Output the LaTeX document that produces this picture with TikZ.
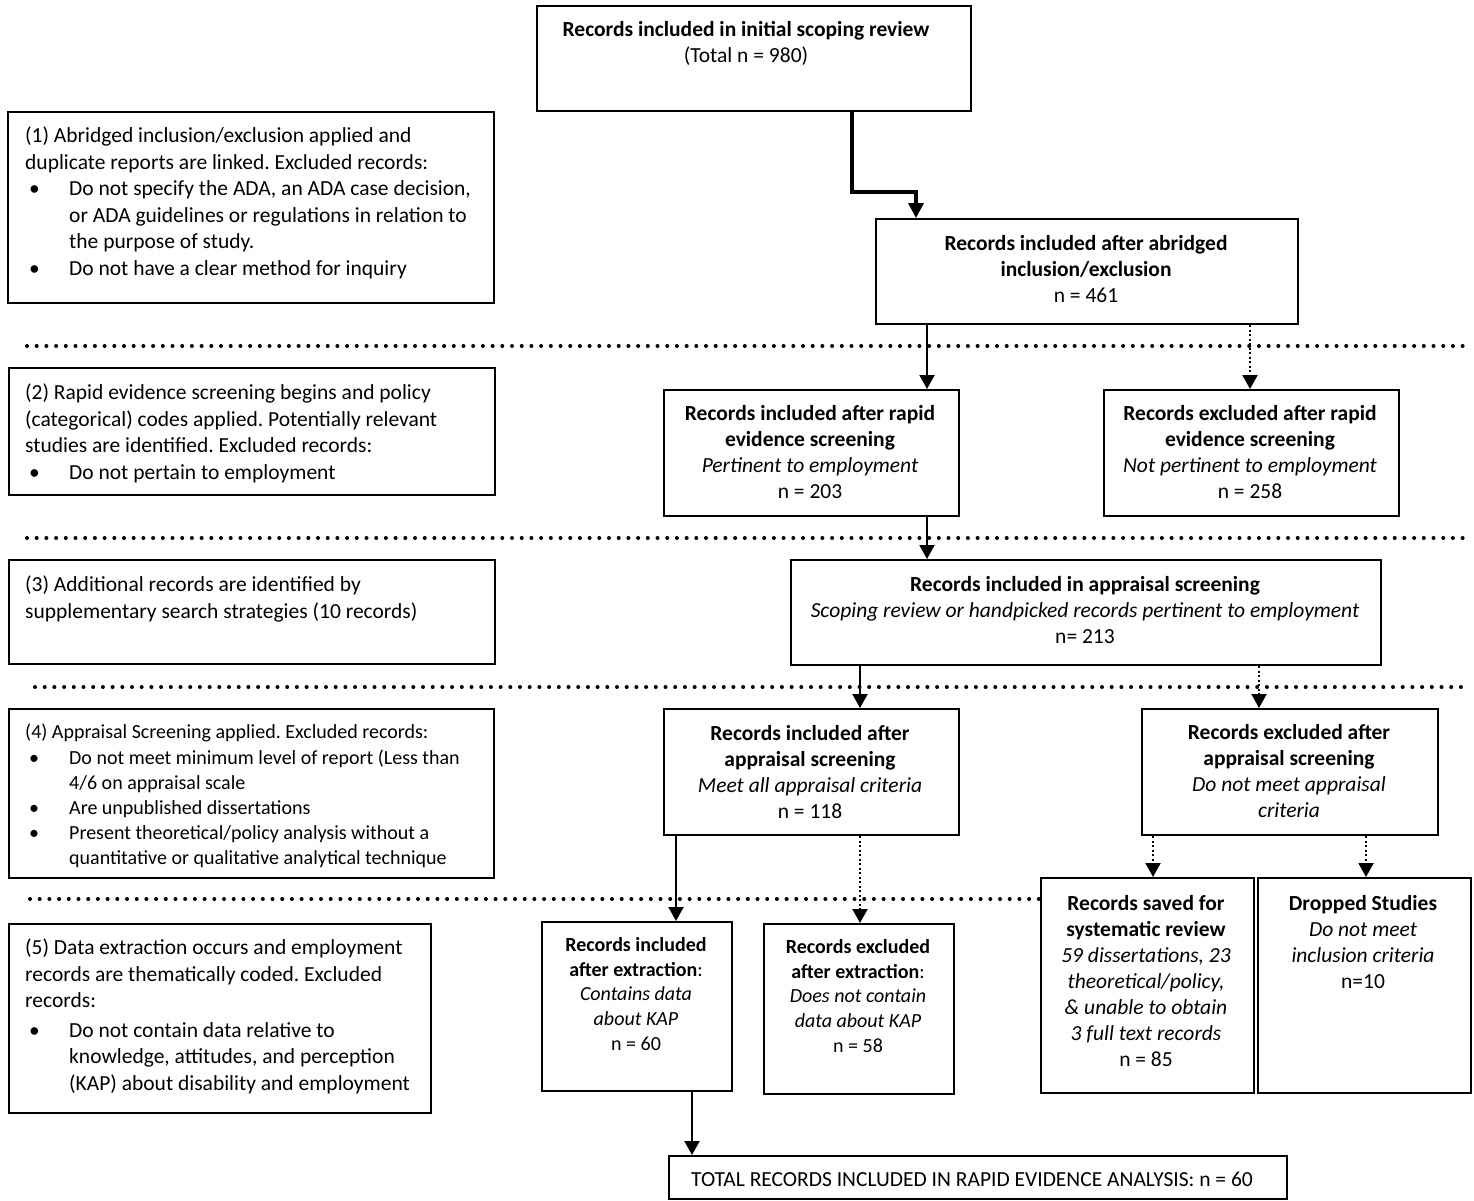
\documentclass[tikz,border=0pt]{standalone}
\usepackage{fontspec}
\setmainfont{Carlito}
\usetikzlibrary{arrows.meta}
\frenchspacing
\newcommand\bitem{\makebox[44pt][l]{\hspace{4pt}\textbullet}}
\newcommand\bcont{\hspace*{44pt}}
\begin{document}
\begin{tikzpicture}[x=1pt,y=-1pt,
  box/.style={draw, line width=2pt, anchor=north west, inner sep=0pt},
  txt/.style={anchor=north, align=center, inner sep=0pt, font=\fontsize{21.5}{26}\selectfont},
  stxt/.style={anchor=north, align=center, inner sep=0pt, font=\fontsize{20}{24.8}\selectfont},
  ltxt/.style={anchor=north west, align=left, inner sep=0pt, font=\fontsize{21.5}{26.5}\selectfont},
  sltxt/.style={anchor=north west, align=left, inner sep=0pt, font=\fontsize{20}{25.2}\selectfont},
  arr/.style={line width=2pt, -{Triangle[width=15pt,length=14pt]}},
  darr/.style={line width=2pt, dash pattern=on 2pt off 2.5pt, -{Triangle[width=15pt,length=14pt]}},
  sep/.style={line width=4pt, line cap=round, dash pattern=on 0pt off 9.7pt}]
\useasboundingbox (0,0) rectangle (1474,1200);

% ---------- boxes ----------
\node[box, minimum width=434pt, minimum height=105pt] (b1) at (536,5) {};
\node[txt] (t1) at (746,21) {\textbf{Records included in initial scoping review}\\(Total n = 980)};

\node[box, minimum width=486pt, minimum height=191pt] (l1) at (7,111) {};
\node[ltxt] (tl1) at (25,127) {(1) Abridged inclusion/exclusion applied and\\
duplicate reports are linked. Excluded records:\\
\bitem Do not specify the ADA, an ADA case decision,\\
\bcont or ADA guidelines or regulations in relation to\\
\bcont the purpose of study.\\
\bitem Do not have a clear method for inquiry};

\node[box, minimum width=422pt, minimum height=105pt] (b3) at (875,218) {};
\node[txt] (t3) at (1086,235) {\textbf{Records included after abridged}\\\textbf{inclusion/exclusion}\\n = 461};

\node[box, minimum width=486pt, minimum height=127pt] (l2) at (8,367) {};
\node[ltxt] (tl2) at (25,384) {(2) Rapid evidence screening begins and policy\\
(categorical) codes applied. Potentially relevant\\
studies are identified. Excluded records:\\
\bitem Do not pertain to employment};

\node[box, minimum width=295pt, minimum height=126pt] (b6) at (663,389) {};
\node[txt] (t6) at (810,405) {\textbf{Records included after rapid}\\\textbf{evidence screening}\\\textit{Pertinent to employment}\\n = 203};

\node[box, minimum width=295pt, minimum height=126pt] (b7) at (1103,389) {};
\node[txt] (t7) at (1250,405) {\textbf{Records excluded after rapid}\\\textbf{evidence screening}\\\textit{Not pertinent to employment}\\n = 258};

\node[box, minimum width=486pt, minimum height=104pt] (l3) at (8,559) {};
\node[ltxt] (tl3) at (25,576) {(3) Additional records are identified by\\
supplementary search strategies (10 records)};

\node[box, minimum width=590pt, minimum height=105pt] (b10) at (790,559) {};
\node[txt] (t10) at (1085,576) {\textbf{Records included in appraisal screening}\\\textit{Scoping review or handpicked records pertinent to employment}\\n= 213};

\node[box, minimum width=485pt, minimum height=169pt] (l4) at (8,708) {};
\node[sltxt] (tl4) at (25,724) {(4) Appraisal Screening applied. Excluded records:\\
\bitem Do not meet minimum level of report (Less than\\
\bcont 4/6 on appraisal scale\\
\bitem Are unpublished dissertations\\
\bitem Present theoretical/policy analysis without a\\
\bcont quantitative or qualitative analytical technique};

\node[box, minimum width=295pt, minimum height=126pt] (b13) at (663,708) {};
\node[txt] (t13) at (810,725) {\textbf{Records included after}\\\textbf{appraisal screening}\\\textit{Meet all appraisal criteria}\\n = 118};

\node[box, minimum width=296pt, minimum height=126pt] (b14) at (1141,708) {};
\node[txt] (t14) at (1289,724) {\textbf{Records excluded after}\\\textbf{appraisal screening}\\\textit{Do not meet appraisal}\\\textit{criteria}};

\node[box, minimum width=422pt, minimum height=189pt] (l5) at (8,923) {};
\node[ltxt] (tl5) at (25,939) {(5) Data extraction occurs and employment\\
records are thematically coded. Excluded\\
records:\\[3pt]
\bitem Do not contain data relative to\\
\bcont knowledge, attitudes, and perception\\
\bcont (KAP) about disability and employment};

\node[box, minimum width=190pt, minimum height=169pt] (b17) at (541,921) {};
\node[stxt] (t17) at (636,937) {\textbf{Records included}\\\textbf{after extraction}:\\\textit{Contains data}\\\textit{about KAP}\\n = 60};

\node[box, minimum width=190pt, minimum height=170pt] (b18) at (763,923) {};
\node[stxt] (t18) at (858,939) {\textbf{Records excluded}\\\textbf{after extraction}:\\\textit{Does not contain}\\\textit{data about KAP}\\n = 58};

\node[box, minimum width=213pt, minimum height=215pt] (b19) at (1040,877) {};
\node[txt] (t19) at (1146,895) {\textbf{Records saved for}\\\textbf{systematic review}\\\textit{59 dissertations, 23}\\\textit{theoretical/policy,}\\\textit{\& unable to obtain}\\\textit{3 full text records}\\n = 85};

\node[box, minimum width=213pt, minimum height=215pt] (b20) at (1257,877) {};
\node[txt] (t20) at (1363,895) {\textbf{Dropped Studies}\\\textit{Do not meet}\\\textit{inclusion criteria}\\n=10};

\node[box, minimum width=618pt, minimum height=43pt] (b21) at (668,1155) {};
\node[txt, anchor=center] (t21) at ([xshift=-6pt,yshift=-2pt]b21.center) {TOTAL RECORDS INCLUDED IN RAPID EVIDENCE ANALYSIS: n = 60};

% ---------- separators ----------
\coordinate (s1a) at (27,346);  \coordinate (s1b) at (1470,346);
\coordinate (s2a) at (27,538);  \coordinate (s2b) at (1470,538);
\coordinate (s3a) at (35,687);  \coordinate (s3b) at (1470,687);
\coordinate (s4a) at (30,899);  \coordinate (s4b) at (1040,899);
\draw[sep] (s1a) -- (s1b);
\draw[sep] (s2a) -- (s2b);
\draw[sep] (s3a) -- (s3b);
\draw[sep] (s4a) -- (s4b);

% ---------- connectors ----------
\draw[arr, line width=3.5pt, -{Triangle[width=15pt,length=15pt]}]
  ([xshift=316pt]b1.south west) -- ++(0,80) -| ([xshift=41pt]b3.north west);
\draw[arr] ([xshift=52pt]b3.south west) -- ([xshift=264pt]b6.north west);
\draw[darr] ([xshift=375pt]b3.south west) -- ([xshift=147pt]b7.north west);
\draw[arr] ([xshift=264pt]b6.south west) -- ([xshift=137pt]b10.north west);
\draw[arr] ([xshift=70pt]b10.south west) -- ([xshift=197pt]b13.north west);
\draw[darr] ([xshift=469pt]b10.south west) -- ([xshift=118pt]b14.north west);
\draw[arr] ([xshift=13pt]b13.south west) -- ([xshift=135pt]b17.north west);
\draw[darr] ([xshift=197pt]b13.south west) -- ([xshift=97pt]b18.north west);
\draw[darr] ([xshift=12pt]b14.south west) -- ([xshift=113pt]b19.north west);
\draw[darr] ([xshift=225pt]b14.south west) -- ([xshift=109pt]b20.north west);
\draw[arr] ([xshift=151pt]b17.south west) -- ([xshift=24pt]b21.north west);
\end{tikzpicture}
\end{document}
